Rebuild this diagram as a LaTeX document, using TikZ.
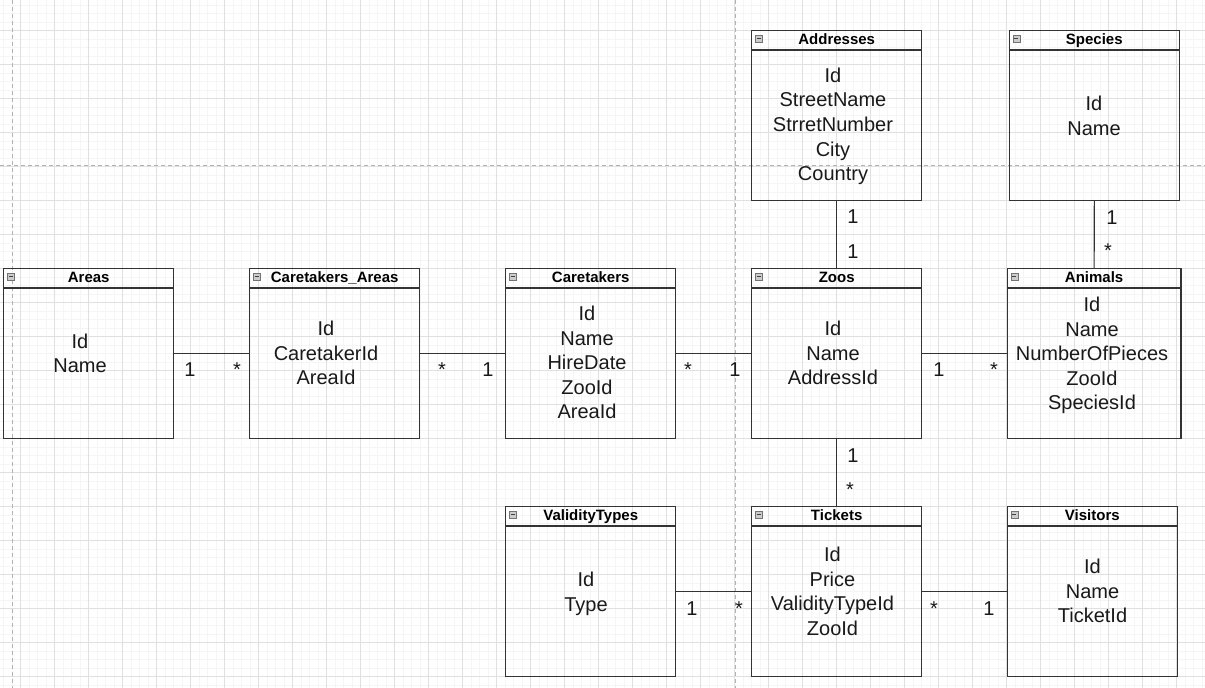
\documentclass[tikz,border=0pt]{standalone}
\usepackage{fontspec}
\setmainfont{Liberation Sans}
\begin{document}
\tikzset{
  tbl/.style={draw=black!80, line width=1.1pt, inner sep=0pt, outer sep=0pt, minimum height=170pt},
  conn/.style={draw=black!80, line width=1.1pt},
  ttl/.style={font=\bfseries\fontsize{15}{17}\selectfont, anchor=base, inner sep=0pt},
  fld/.style={font=\fontsize{20}{24}\selectfont, anchor=base, inner sep=0pt, text=black!90},
  mult/.style={font=\fontsize{20}{24}\selectfont, anchor=base, inner sep=0pt, text=black!90},
  icon/.style={draw=black!55, fill=black!20, minimum size=7pt, inner sep=0pt, line width=0.6pt},
  minorgrid/.style={draw=black!4, line width=0.6pt},
  majorgrid/.style={draw=black!12, line width=0.8pt},
  pagebrk/.style={draw=black!30, line width=0.8pt, dash pattern=on 4pt off 3pt},
}
\newcommand\ertbl[8]{%
  \node[tbl, minimum width=#4pt, anchor=north west] (#1) at (#2,#3) {};
  \draw[conn] ([yshift=-19.7pt]#1.north west) -- ([yshift=-19.7pt]#1.north east);
  \node[ttl] (#1-t) at ([yshift=-14.4pt]#1.north) {#5};
  \node[icon] (#1-i) at ([xshift=7pt,yshift=-8pt]#1.north west) {};
  \draw[black!75, line width=0.8pt] ([xshift=-2pt]#1-i.center) -- ([xshift=2pt]#1-i.center);
  \foreach \l [count=\k from 0] in {#8} \node[fld] (#1-f\k) at (#6, #7+24.6*\k) {\l};
}
\begin{tikzpicture}[x=1pt, y=-1pt]
\useasboundingbox (0,0) rectangle (1205,688);
\fill[white] (0,0) rectangle (1205,688);
% grid
\foreach \i in {0,...,141} \draw[minorgrid] ({3.7+8.5*\i},0) -- ({3.7+8.5*\i},688);
\foreach \j in {0,...,80} \draw[minorgrid] (0,{4.8+8.5*\j}) -- (1205,{4.8+8.5*\j});
\foreach \i in {0,...,34} \draw[majorgrid] ({20.7+34*\i},0) -- ({20.7+34*\i},688);
\foreach \j in {0,...,19} \draw[majorgrid] (0,{30.3+34*\j}) -- (1205,{30.3+34*\j});
% page breaks
\draw[pagebrk] (12.3,0) -- (12.3,688);
\draw[pagebrk] (735,0) -- (735,688);
\draw[pagebrk] (0,165.7) -- (1205,165.7);
% tables
\ertbl{areas}{3.7}{268.3}{170}{Areas}{80}{348.3}{Id,Name}
\ertbl{ca}{249.7}{268.3}{170}{Caretakers\_Areas}{326}{335.5}{Id,CaretakerId,AreaId}
\ertbl{care}{505.7}{268.3}{170}{Caretakers}{587}{320.5}{Id,Name,HireDate,ZooId,AreaId}
\ertbl{zoos}{751.7}{268.3}{170}{Zoos}{833}{335.5}{Id,Name,AddressId}
\ertbl{animals}{1007.3}{268.3}{173.7}{Animals}{1092}{311.5}{Id,Name,NumberOfPieces,ZooId,SpeciesId}
\ertbl{addr}{751.7}{30.3}{170}{Addresses}{833}{82.3}{Id,StreetName,StrretNumber,City,Country}
\ertbl{species}{1009.3}{30.3}{170}{Species}{1094}{110.7}{Id,Name}
\ertbl{vt}{505.7}{506.3}{170}{ValidityTypes}{586}{586.5}{Id,Type}
\ertbl{tickets}{751.7}{506.3}{170}{Tickets}{832.5}{561.5}{Id,Price,ValidityTypeId,ZooId}
\ertbl{visitors}{1007.3}{506.3}{170}{Visitors}{1092.5}{573.5}{Id,Name,TicketId}
% connectors
\draw[conn] (areas.east) -- (ca.west);
\draw[conn] (ca.east) -- (care.west);
\draw[conn] (care.east) -- (zoos.west);
\draw[conn] (zoos.east) -- (animals.west);
\draw[conn] (addr.south) -- (zoos.north);
\draw[conn] (species.south) -- (animals.north);
\draw[conn] (zoos.south) -- (tickets.north);
\draw[conn] (vt.east) -- (tickets.west);
\draw[conn] (tickets.east) -- (visitors.west);
% multiplicities
\node[mult] (m1) at (190,376.5) {1};
\node[mult] (m2) at (237,376.5) {*};
\node[mult] (m3) at (442,376.5) {*};
\node[mult] (m4) at (488,376.5) {1};
\node[mult] (m5) at (688,376.5) {*};
\node[mult] (m6) at (735,376.5) {1};
\node[mult] (m7) at (939,376.5) {1};
\node[mult] (m8) at (994,376.5) {*};
\node[mult] (m9) at (853,223) {1};
\node[mult] (m10) at (853,258) {1};
\node[mult] (m11) at (1112,224) {1};
\node[mult] (m12) at (1108,257.5) {*};
\node[mult] (m13) at (853,462) {1};
\node[mult] (m14) at (850,496) {*};
\node[mult] (m15) at (692,615) {1};
\node[mult] (m16) at (739,615) {*};
\node[mult] (m17) at (934,615) {*};
\node[mult] (m18) at (989,615) {1};
\end{tikzpicture}
\end{document}
